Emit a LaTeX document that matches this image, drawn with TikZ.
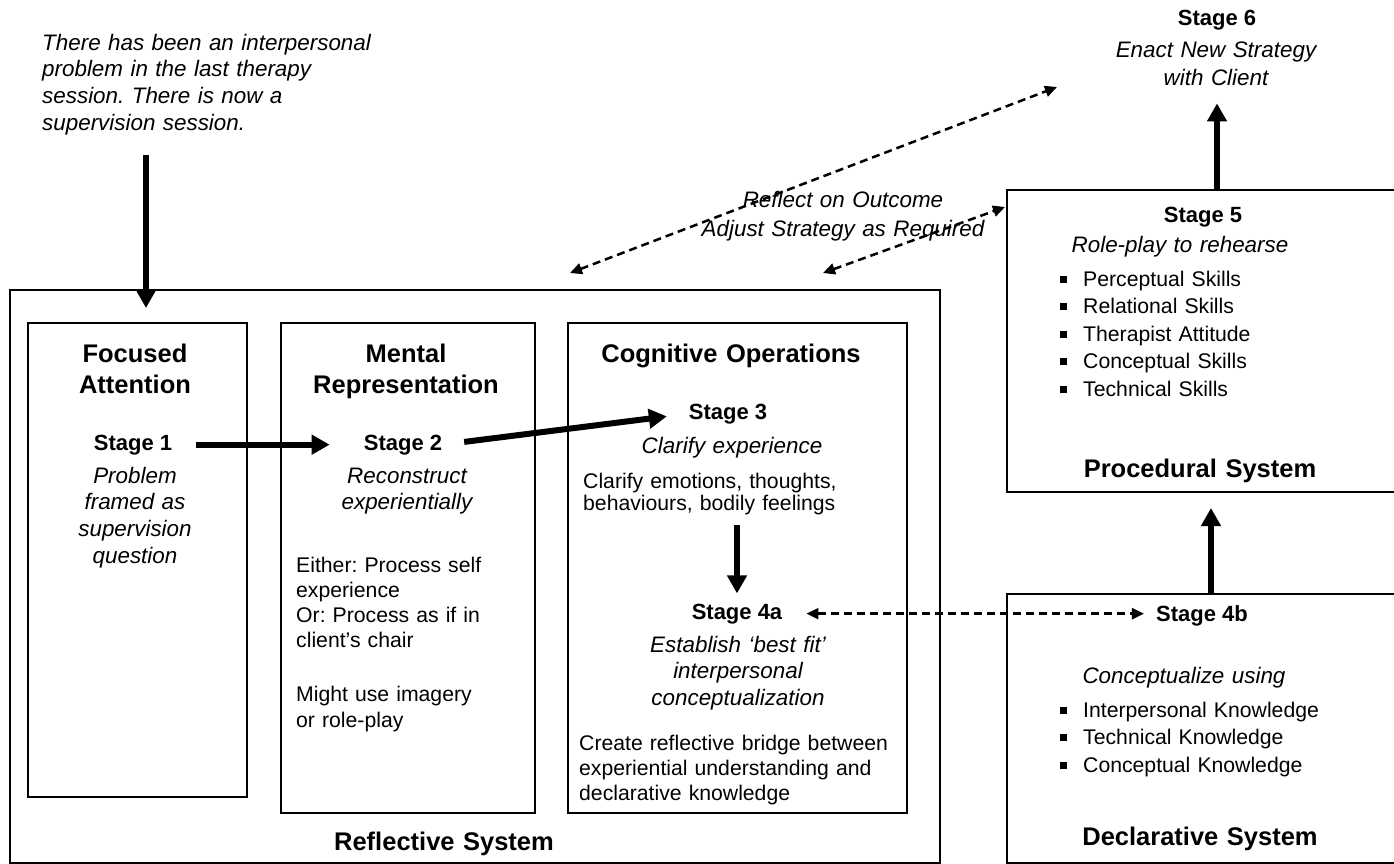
\documentclass[tikz,border=0pt]{standalone}
\usepackage{fontspec}
\setmainfont{Liberation Sans}
\usetikzlibrary{arrows.meta,calc}
\newcommand\sqb{\makebox[23.5pt][l]{\rule[3.5pt]{7pt}{7pt}}}
\frenchspacing
\begin{document}
\begin{tikzpicture}[x=1pt,y=-1pt,
  box/.style={draw, line width=2pt, inner sep=0pt, outer sep=0pt, anchor=north west},
  hd/.style={font=\fontsize{25.5}{31}\selectfont\bfseries, inner sep=0pt, anchor=base, align=center, text width=360pt},
  stg/.style={font=\fontsize{22}{26}\selectfont\bfseries, inner sep=0pt, anchor=base},
  itx/.style={font=\fontsize{22.4}{#1}\selectfont\itshape\frenchspacing, inner sep=0pt, anchor=base, align=center, text width=340pt},
  bodyl/.style={font=\fontsize{21.2}{#1}\selectfont\frenchspacing, inner sep=0pt, anchor=base west, align=left, text width=330pt},
  bigarrow/.style={line width=6pt, -{Triangle[length=18pt,width=19pt]}},
  dasharrow/.style={line width=2.5pt, dash pattern=on 8pt off 5pt, {Triangle[length=12pt,width=11pt]}-{Triangle[length=12pt,width=11pt]}}
]
\useasboundingbox (0,0) rectangle (1394,863);
\fill[white] (0,0) rectangle (1394,863);

% boxes
\node[box, minimum width=930pt, minimum height=573pt] (refl) at (10,290) {};
\node[box, minimum width=219pt, minimum height=474pt] (fa) at (28,323) {};
\node[box, minimum width=254pt, minimum height=490pt] (mr) at (281,323) {};
\node[box, minimum width=339pt, minimum height=490pt] (co) at (568,323) {};
\node[box, minimum width=403pt, minimum height=302pt] (proc) at (1007,190) {};
\node[box, minimum width=403pt, minimum height=269pt] (decl) at (1007,594) {};

% intro text
\node[itx=26.7pt, anchor=base west, align=left, text width=400pt] (intro) at (42,50)
  {There has been an interpersonal\\problem in the last therapy\\session. There is now a\\supervision session.};

% headings
\node[hd] (fah) at (135,362) {Focused\\Attention};
\node[hd] (mrh) at (406,362) {Mental\\Representation};
\node[hd] (coh) at (731,362) {Cognitive Operations};
\node[hd] (rsl) at (444,850) {Reflective System};
\node[hd] (psl) at (1200,477) {Procedural System};
\node[hd] (dsl) at (1200,845) {Declarative System};

% stage 1
\node[stg] (s1) at (133,450) {Stage 1};
\node[itx=26.7pt] (s1t) at (135,483) {Problem\\framed as\\supervision\\question};

% stage 2
\node[stg] (s2) at (403,450) {Stage 2};
\node[itx=26.7pt] (s2t) at (407,483) {Reconstruct\\experientially};
\node[bodyl=25.3pt] (s2b) at (296,572) {Either: Process self\\experience\\Or: Process as if in\\client’s chair\\[28.7pt]Might use imagery\\or role-play};

% stage 3
\node[stg] (s3) at (728,419) {Stage 3};
\node[itx=26.7pt] (s3t) at (732,453) {Clarify experience};
\node[bodyl=22pt] (cbody) at (583,488) {Clarify emotions, thoughts,\\behaviours, bodily feelings};

% stage 4a
\node[stg] (s4a) at (737,619) {Stage 4a};
\node[itx=26.5pt] (s4at) at (738,652) {Establish ‘best fit’\\interpersonal\\conceptualization};
\node[bodyl=25pt] (s4ab) at (579,750) {Create reflective bridge between\\experiential understanding and\\declarative knowledge};

% stage 4b
\node[stg] (s4b) at (1202,621) {Stage 4b};
\node[itx=26.7pt] (s4bt) at (1184,683) {Conceptualize using};
\node[bodyl=27.5pt] (s4bl) at (1059.5,717) {\sqb Interpersonal Knowledge\\\sqb Technical Knowledge\\\sqb Conceptual Knowledge};

% stage 5
\node[stg] (s5) at (1203,222) {Stage 5};
\node[itx=26.7pt] (s5t) at (1180,252) {Role-play to rehearse};
\node[bodyl=27.5pt] (s5l) at (1059.5,286) {\sqb Perceptual Skills\\\sqb Relational Skills\\\sqb Therapist Attitude\\\sqb Conceptual Skills\\\sqb Technical Skills};

% stage 6
\node[stg] (s6) at (1217,25) {Stage 6};
\node[itx=28pt] (s6t) at (1216,57) {Enact New Strategy\\with Client};

% reflect label
\node[itx=29pt] (refl-l) at (843,207) {Reflect on Outcome\\Adjust Strategy as Required};

% coordinates for free ends
\coordinate (topin) at (146,308);
\coordinate (d1a) at (570,273);
\coordinate (d1b) at (1057,87);
\coordinate (d2a) at (823,273);
\coordinate (d2b) at (1005,207);

% connectors
\draw[bigarrow, shorten <=20pt] (intro.south -| topin) -- (topin);
\draw[bigarrow, shorten <=24pt, shorten >=34pt] (s1.east) -- (s2.west);
\draw[bigarrow, shorten <=22pt, shorten >=22pt] (s2.east) -- (s3.west);
\draw[bigarrow, shorten <=10.5pt, shorten >=10pt] (cbody.south -| s4a.north) -- (s4a.north);
\draw[dasharrow, shorten <=24pt, shorten >=12pt] (s4a.east) -- (s4a.east -| s4b.west);
\draw[bigarrow, shorten >=16pt] ([xshift=2.5pt]decl.north) -- ([xshift=2.5pt]proc.south);
\draw[bigarrow, shorten >=18pt] ([xshift=8.5pt]proc.north) -- ([xshift=8.5pt]proc.north |- s6t.south);
\draw[dasharrow] (d1a) -- (d1b);
\draw[dasharrow] (d2a) -- (d2b);
\end{tikzpicture}
\end{document}
